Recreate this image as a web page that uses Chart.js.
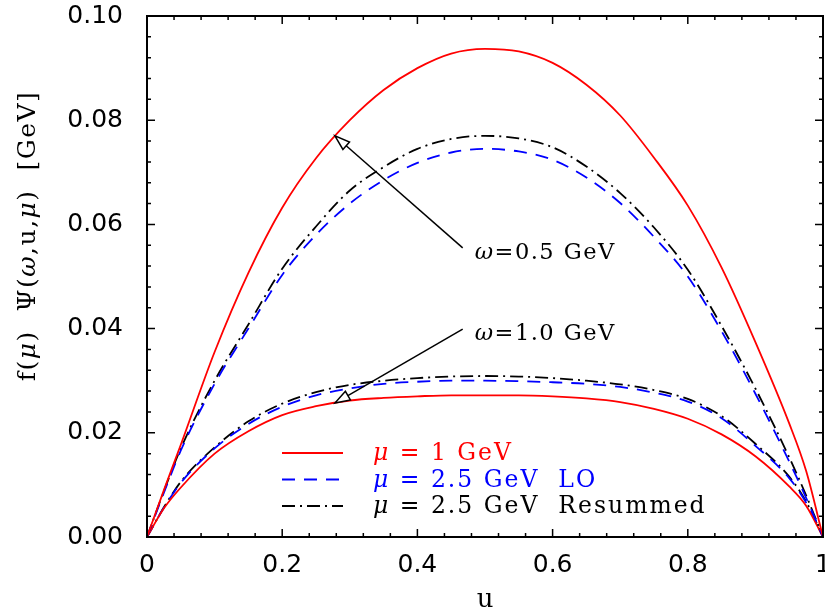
<!DOCTYPE html>
<html>
<head>
<meta charset="utf-8">
<script src="https://cdn.jsdelivr.net/npm/chart.js@4.4.1/dist/chart.umd.min.js"></script>
<style>
  html, body { margin: 0; padding: 0; background: #fff; }
</style>
</head>
<body>
<canvas id="chart" width="825" height="614"></canvas>
<script>
// ── data ──
const uVals = [0, 0.025, 0.05, 0.1, 0.15, 0.2, 0.25, 0.3, 0.35, 0.4, 0.45, 0.5,
               0.55, 0.6, 0.65, 0.7, 0.75, 0.8, 0.85, 0.9, 0.95, 0.975, 1];

// omega = 0.5 GeV
const red05   = [0, 0.0090, 0.0177, 0.0355, 0.0507, 0.0632, 0.0727, 0.0800, 0.0858, 0.0900, 0.0928, 0.0937,
                 0.0932, 0.0910, 0.0868, 0.0809, 0.0728, 0.0636, 0.0517, 0.0374, 0.0218, 0.0127, 0];
const blue05  = [0, 0.0085, 0.0166, 0.0294, 0.0400, 0.0503, 0.0580, 0.0640, 0.0685, 0.0718, 0.0738, 0.0745,
                 0.0740, 0.0724, 0.0690, 0.0641, 0.0576, 0.0500, 0.0395, 0.0275, 0.0145, 0.0075, 0];
const black05 = [0, 0.0088, 0.0170, 0.0300, 0.0408, 0.0515, 0.0596, 0.0665, 0.0710, 0.0745, 0.0764, 0.0770,
                 0.0765, 0.0748, 0.0711, 0.0660, 0.0594, 0.0513, 0.0405, 0.0285, 0.0153, 0.0080, 0];

// omega = 1.0 GeV
const red10   = [0, 0.0055, 0.0095, 0.0160, 0.0203, 0.0234, 0.0251, 0.0262, 0.0267, 0.0270, 0.0272, 0.0272,
                 0.0272, 0.0270, 0.0266, 0.0259, 0.0246, 0.0227, 0.0197, 0.0155, 0.0097, 0.0060, 0];
const blue10  = [0, 0.0056, 0.0104, 0.0170, 0.0217, 0.0250, 0.0272, 0.0285, 0.0294, 0.0298, 0.0300, 0.0300,
                 0.0299, 0.0297, 0.0294, 0.0288, 0.0277, 0.0260, 0.0228, 0.0175, 0.0113, 0.0066, 0];
const black10 = [0, 0.0057, 0.0106, 0.0172, 0.0222, 0.0256, 0.0278, 0.0292, 0.0300, 0.0305, 0.0308, 0.0309,
                 0.0308, 0.0305, 0.0300, 0.0293, 0.0282, 0.0265, 0.0232, 0.0179, 0.0116, 0.0068, 0];

const xTicks = [0, 0.2, 0.4, 0.6, 0.8, 1];
const xTickLabels = ["0", "0.2", "0.4", "0.6", "0.8", "1"];
const yTicks = [0, 0.02, 0.04, 0.06, 0.08, 0.10];
const yTickLabels = ["0.00", "0.02", "0.04", "0.06", "0.08", "0.10"];

// rich text: [text, italic]
const legendLabels = [
  [["\u03bc", true], [" = 1 GeV", false]],
  [["\u03bc", true], [" = 2.5 GeV  LO", false]],
  [["\u03bc", true], [" = 2.5 GeV  Resummed", false]]
];
const yTitle = [["f(", false], ["\u03bc", true], [")  \u03a8(", false], ["\u03c9", true], [",u,", false],
                ["\u03bc", true], [")  [GeV]", false]];

// arrows: [label, tail u, tail f, tip u, tip f]
const notes = [
  [[["\u03c9", true], ["=0.5 GeV", false]], 0.467, 0.0555, 0.278, 0.0770],
  [[["\u03c9", true], ["=1.0 GeV", false]], 0.467, 0.0399, 0.278, 0.0257]
];

const RED = "#ff0000", BLUE = "#0000ff", BLACK = "#000000";
const SERIF = "'DejaVu Serif', serif";
const SANS  = "'DejaVu Sans', sans-serif";

const styles = [
  { color: RED,   dash: [] },
  { color: BLUE,  dash: [13, 9] },
  { color: BLACK, dash: [13, 5, 2, 5] }
];

const pts = arr => arr.map((v, i) => ({ x: uVals[i], y: v }));

function makeSet(arr, s) {
  return {
    data: pts(arr),
    borderColor: s.color,
    borderDash: s.dash,
    borderWidth: 1.8,
    pointRadius: 0,
    fill: false,
    cubicInterpolationMode: "monotone"
  };
}

const datasets = [
  makeSet(red05,   styles[0]),
  makeSet(blue05,  styles[1]),
  makeSet(black05, styles[2]),
  makeSet(red10,   styles[0]),
  makeSet(blue10,  styles[1]),
  makeSet(black10, styles[2])
];

function richText(ctx, parts, x, y, size) {
  let cx = x;
  parts.forEach(([t, it]) => {
    ctx.font = (it ? "italic " : "") + size + "px " + SERIF;
    ctx.fillText(t, cx, y);
    cx += ctx.measureText(t).width;
  });
  return cx - x;
}

function richWidth(ctx, parts, size) {
  let w = 0;
  parts.forEach(([t, it]) => {
    ctx.font = (it ? "italic " : "") + size + "px " + SERIF;
    w += ctx.measureText(t).width;
  });
  return w;
}

// frame, inward ticks, legend, arrows, axis titles
const decor = {
  id: "decor",
  afterDraw(ch) {
    const { ctx, chartArea: a, scales: { x, y } } = ch;
    ctx.save();
    ctx.strokeStyle = BLACK;
    ctx.setLineDash([]);

    // ticks (inward on all sides)
    ctx.lineWidth = 1.5;
    const tick = (px, len, vertical) => {
      ctx.beginPath();
      if (vertical) {
        ctx.moveTo(px, a.bottom); ctx.lineTo(px, a.bottom - len);
        ctx.moveTo(px, a.top);    ctx.lineTo(px, a.top + len);
      } else {
        ctx.moveTo(a.left, px);  ctx.lineTo(a.left + len, px);
        ctx.moveTo(a.right, px); ctx.lineTo(a.right - len, px);
      }
      ctx.stroke();
    };
    for (let i = 0; i <= 25; i++) tick(x.getPixelForValue(i * 0.04), i % 5 === 0 ? 8 : 4, true);
    for (let i = 0; i <= 25; i++) tick(y.getPixelForValue(i * 0.004), i % 5 === 0 ? 8 : 4, false);

    // frame
    ctx.lineWidth = 2;
    ctx.strokeRect(a.left, a.top, a.right - a.left, a.bottom - a.top);

    // legend
    ctx.letterSpacing = "2px";
    ctx.textBaseline = "middle";
    ctx.textAlign = "left";
    const lx0 = a.left + 135, lx1 = a.left + 196, tx = a.left + 226;
    styles.forEach((s, i) => {
      const ly = a.top + 437 + i * 26.5;
      ctx.strokeStyle = s.color;
      ctx.lineWidth = 1.8;
      ctx.setLineDash(s.dash);
      ctx.beginPath(); ctx.moveTo(lx0, ly); ctx.lineTo(lx1, ly); ctx.stroke();
      ctx.fillStyle = s.color;
      richText(ctx, legendLabels[i], tx, ly + 1, 23.5);
    });
    ctx.setLineDash([]);

    // arrows with open heads
    ctx.strokeStyle = BLACK;
    notes.forEach(([txt, u0, f0, u1, f1]) => {
      const x0 = x.getPixelForValue(u0), y0 = y.getPixelForValue(f0);
      const x1 = x.getPixelForValue(u1), y1 = y.getPixelForValue(f1);
      const ang = Math.atan2(y1 - y0, x1 - x0);
      const hl = 15, hw = 5;
      const bx = x1 - hl * Math.cos(ang), by = y1 - hl * Math.sin(ang);
      ctx.lineWidth = 1.5;
      ctx.beginPath(); ctx.moveTo(x0, y0); ctx.lineTo(bx, by); ctx.stroke();
      ctx.beginPath();
      ctx.moveTo(x1, y1);
      ctx.lineTo(bx + hw * Math.sin(ang), by - hw * Math.cos(ang));
      ctx.lineTo(bx - hw * Math.sin(ang), by + hw * Math.cos(ang));
      ctx.closePath();
      ctx.fillStyle = "#fff"; ctx.fill(); ctx.stroke();
      ctx.fillStyle = BLACK;
      ctx.letterSpacing = "1.5px";
      richText(ctx, txt, x0 + 12, y0 + 5, 22.5);
    });

    // axis titles
    ctx.fillStyle = BLACK;
    ctx.letterSpacing = "0px";
    ctx.font = "26px " + SERIF;
    ctx.textAlign = "center";
    ctx.fillText("u", (a.left + a.right) / 2, 600);
    ctx.textAlign = "left";
    ctx.letterSpacing = "1.5px";
    const w = richWidth(ctx, yTitle, 25);
    ctx.translate(28, 236);
    ctx.rotate(-Math.PI / 2);
    richText(ctx, yTitle, -w / 2, 0, 25);
    ctx.restore();
  }
};

new Chart(document.getElementById("chart"), {
  type: "line",
  data: { datasets },
  options: {
    responsive: false,
    animation: false,
    events: [],
    layout: { padding: { top: 16, right: 2, left: 0, bottom: 0 } },
    plugins: { legend: { display: false }, tooltip: { enabled: false } },
    scales: {
      x: {
        type: "linear", min: 0, max: 1,
        grid: { display: false, drawTicks: false },
        border: { display: false },
        afterBuildTicks: s => { s.ticks = xTicks.map(v => ({ value: v })); },
        ticks: {
          color: BLACK, padding: 13, maxRotation: 0,
          font: { family: SANS, size: 25 },
          callback: (v) => xTickLabels[xTicks.indexOf(v)] ?? ""
        },
        afterFit: s => { s.height = 77; s.paddingLeft = 0; s.paddingRight = 0; }
      },
      y: {
        min: 0, max: 0.1,
        grid: { display: false, drawTicks: false },
        border: { display: false },
        afterBuildTicks: s => { s.ticks = yTicks.map(v => ({ value: v })); },
        ticks: {
          color: BLACK, padding: 24,
          font: { family: SANS, size: 25 },
          callback: (v) => {
            const i = yTicks.findIndex(t => Math.abs(t - v) < 1e-9);
            return i >= 0 ? yTickLabels[i] : "";
          }
        },
        afterFit: s => { s.width = 147; s.paddingTop = 0; s.paddingBottom = 0; }
      }
    }
  },
  plugins: [decor]
});
</script>
</body>
</html>
